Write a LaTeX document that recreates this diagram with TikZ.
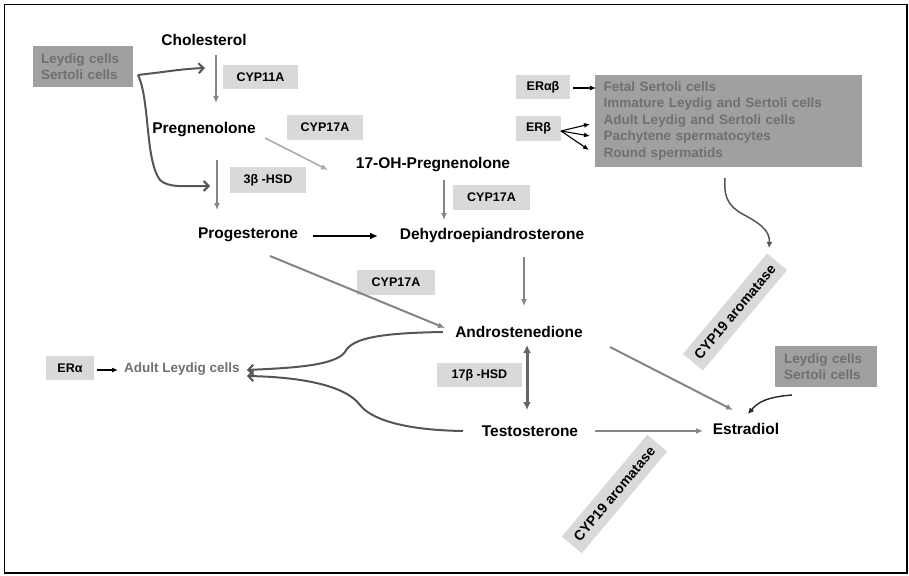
\documentclass[tikz,border=0pt]{standalone}
\usepackage{fontspec}
\setmainfont{Liberation Sans}
\usetikzlibrary{arrows.meta,calc}
\definecolor{enzfill}{HTML}{D9D9D9}
\definecolor{cellfill}{HTML}{A0A0A0}
\definecolor{celltext}{HTML}{707070}
\definecolor{arrgray}{HTML}{858585}
\definecolor{arrlight}{HTML}{ABABAB}
\definecolor{arrdark}{HTML}{555555}
\begin{document}
\begin{tikzpicture}[x=1pt,y=-1pt,
  met/.style={font=\fontsize{15.5}{18}\selectfont\bfseries, inner sep=0pt},
  enz/.style={fill=enzfill, font=\fontsize{12.5}{15}\selectfont\bfseries, inner sep=0pt},
  cellbox/.style={fill=cellfill, text=celltext, font=\fontsize{13.5}{16.5}\selectfont\bfseries, align=left, inner sep=0pt},
  celltxt/.style={text=celltext, font=\fontsize{13.5}{16.5}\selectfont\bfseries, inner sep=0pt},
  garr/.style={draw=arrgray, line width=1.6pt, -{Latex[length=7pt,width=6pt]}},
  larr/.style={draw=arrlight, line width=1.6pt, -{Latex[length=7pt,width=6pt]}},
  karr/.style={draw=black, line width=1.1pt, -{Latex[length=6pt,width=5pt]}},
  darr/.style={draw=arrdark, line width=2pt, -{Straight Barb[length=5pt,width=10pt]}},
]
\useasboundingbox (0,0) rectangle (909,575);
\draw[line width=1.2pt] (4.5,4.5) rectangle (907,573);

% metabolites
\node[met] (chol) at (204,40) {Cholesterol};
\node[met] (preg) at (204,130) {Pregnenolone};
\node[met] (ohp) at (433,165) {17-OH-Pregnenolone};
\node[met] (prog) at (248,235) {Progesterone};
\node[met] (dhea) at (492,235) {Dehydroepiandrosterone};
\node[met] (andro) at (519,332) {Androstenedione};
\node[met] (testo) at (530,431) {Testosterone};
\node[met] (estr) at (746,429) {Estradiol};

% enzymes
\node[enz, minimum width=75, minimum height=24] (cyp11a) at (260.5,77) {CYP11A};
\node[enz, minimum width=76, minimum height=25] (cyp17a) at (325,127.5) {CYP17A};
\node[enz, minimum width=76, minimum height=26] (hsd3) at (268,180) {3β -HSD};
\node[enz, minimum width=77, minimum height=25] (cyp17b) at (491.5,197.5) {CYP17A};
\node[enz, minimum width=78, minimum height=25] (cyp17c) at (396,282.5) {CYP17A};
\node[enz, minimum width=85, minimum height=24] (hsd17) at (479.5,375) {17β -HSD};
\node[enz, font=\fontsize{14}{16}\selectfont\bfseries, rotate=50, minimum width=131, minimum height=26] (cyp19a) at (735,312) {CYP19 aromatase};
\node[enz, font=\fontsize{14}{16}\selectfont\bfseries, rotate=50, minimum width=133, minimum height=26] (cyp19b) at (614.5,494) {CYP19 aromatase};

% receptor boxes
\node[enz, minimum width=54, minimum height=24] (erab) at (543,87) {ERαβ};
\node[enz, minimum width=45, minimum height=25] (erb) at (538.5,128.5) {ERβ};
\node[enz, minimum width=48, minimum height=24] (era) at (70,368) {ERα};

% cell boxes
\node[cellbox, minimum width=100, minimum height=41, text width=84] (leyA) at (83,66.5) {Leydig cells\\Sertoli cells};
\node[cellbox, minimum width=102, minimum height=41, text width=84] (leyB) at (826,366.5) {Leydig cells\\Sertoli cells};
\node[cellbox, minimum width=267, minimum height=91, text width=250] (big) at (728.5,121)
 {Fetal Sertoli cells\\Immature Leydig and Sertoli cells\\Adult Leydig and Sertoli cells\\Pachytene spermatocytes\\Round spermatids};
\node[celltxt, anchor=west] (adult) at (124,369) {Adult Leydig cells};

% pathway arrows
\draw[garr] ($(chol)+(12,15)$) -- ($(preg)+(12,-27)$);
\draw[garr] ($(preg)+(13,30)$) -- ($(prog)+(-31,-25)$);
\draw[larr] ($(preg)+(61,8)$) -- ($(ohp)+(-105,5)$);
\draw[garr] ($(ohp)+(11,15)$) -- ($(dhea)+(-48,-15)$);
\draw[draw=black, line width=2.6pt, -{Latex[length=8pt,width=7pt]}] ($(prog)+(65,1)$) -- ($(dhea)+(-114,1)$);
\draw[garr, line width=2pt] ($(prog)+(22,21)$) -- ($(andro)+(-74,-4)$);
\draw[garr] ($(dhea)+(32,22)$) -- ($(andro)+(5,-26)$);
\draw[draw=arrdark!90, line width=3pt, {Latex[length=8pt,width=8pt]}-{Latex[length=8pt,width=8pt]}] ($(andro)+(8,13)$) -- ($(testo)+(-3,-21)$);
\draw[garr, line width=2pt] ($(testo)+(65,0)$) -- ($(estr)+(-43,2)$);
\draw[garr, line width=2pt] ($(andro)+(91,15)$) -- ($(estr)+(-13,-19)$);

% regulatory arrows
\draw[draw=black!85, line width=1.4pt, -{Latex[length=6pt,width=6pt]}] ($(leyB)+(-34,28.5)$) .. controls +(-25,2) and +(10,-12) .. ($(estr)+(2,-15)$);
\draw[draw=arrdark, line width=1.5pt, -{Latex[length=6pt,width=6pt]}] ($(big)+(-3.5,57)$) .. controls +(-2,25) and +(-15,-8) .. (748,217) .. controls +(16,9) and +(1,-15) .. ($(cyp19a)+(34,-64)$);
\draw[darr] ($(leyA)+(55,8.5)$) -- (146,74) .. controls (165,72) and (180,69) .. ($(cyp11a)+(-55.5,-9)$);
\draw[darr] ($(leyA)+(55,8.5)$) .. controls (150,100) and (145,160) .. (160,180) .. controls (168,188) and (185,186) .. ($(hsd3)+(-58,6)$);
\draw[darr] ($(andro)+(-76,0)$) .. controls (380,333) and (352,338) .. (345,352) .. controls (335,366) and (290,368) .. ($(adult.east)+(7,1)$);
\draw[darr] ($(testo)+(-67,0)$) .. controls (400,430) and (370,418) .. (360,405) .. controls (345,385) and (300,377) .. ($(adult.east)+(7,7)$);
\draw[karr] ($(erab)+(30,1)$) -- ($(big)+(-132.5,-33)$);
\draw[karr] ($(erb)+(22.5,2.5)$) -- ($(big)+(-138.5,3)$);
\draw[karr] ($(erb)+(22.5,2.5)$) -- ($(big)+(-138.5,15)$);
\draw[karr] ($(erb)+(22.5,2.5)$) -- ($(big)+(-139.5,29)$);
\draw[karr] ($(era)+(27,2)$) -- ($(adult.west)+(-6,1)$);
\end{tikzpicture}
\end{document}
